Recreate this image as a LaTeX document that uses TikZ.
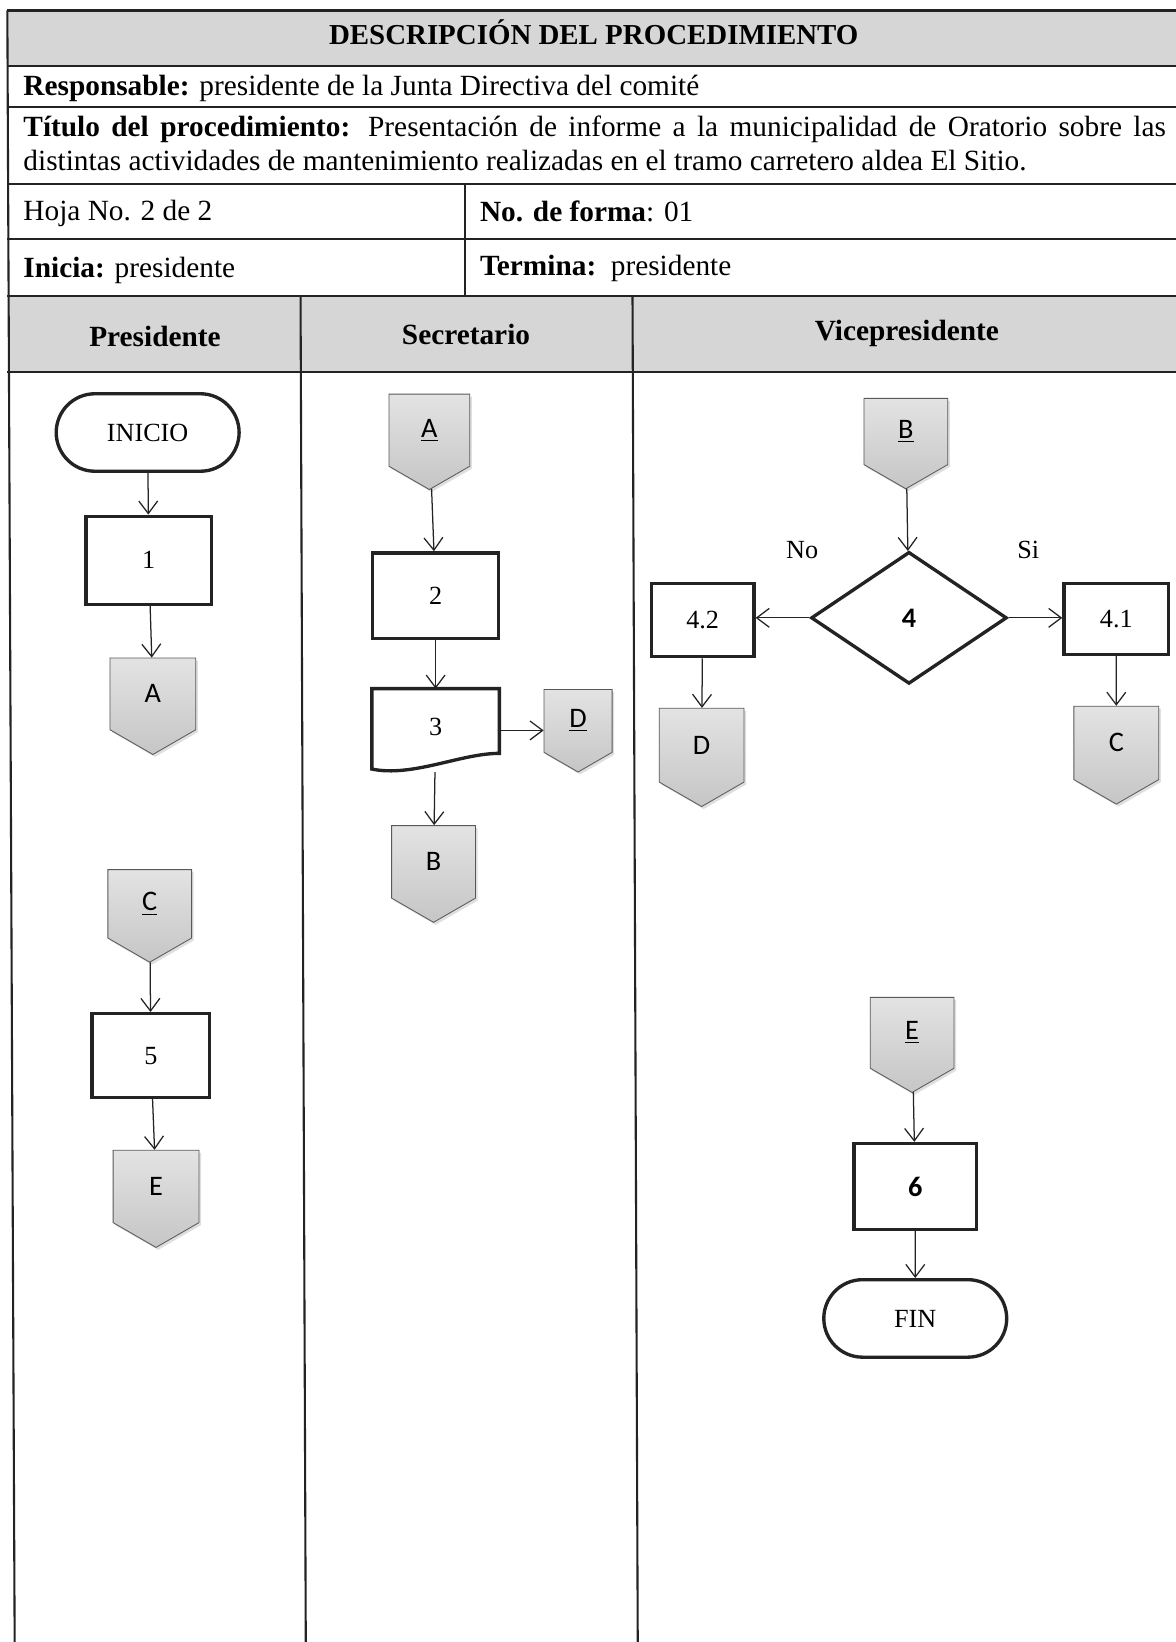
\documentclass[tikz,border=0pt]{standalone}
\usepackage{fontspec}
\setmainfont{Liberation Serif}
\newfontfamily\calibrifont{Carlito}
\usetikzlibrary{arrows.meta, shapes.geometric, shapes.symbols, shapes.misc, shadows, positioning}
\definecolor{myline}{RGB}{35,35,35}
\definecolor{myhead}{RGB}{214,214,214}
\newcommand{\flowfont}{\fontsize{12.5pt}{14pt}\selectfont}
\newcommand{\connfont}{\calibrifont\fontsize{13.5pt}{15pt}\selectfont}
\tikzset{>={Straight Barb[length=6pt,width=9pt]}, font=\fontsize{14pt}{16.5pt}\selectfont}

\begin{document}
\begin{tikzpicture}[x=0.5pt, y=-0.5pt,
rule/.style={line width=1pt, draw=myline},
cell/.style={anchor=west, inner sep=0pt},
lanetitle/.style={font=\fontsize{14pt}{16pt}\selectfont\bfseries},
startstop/.style={
  rounded rectangle,
  draw=myline,
  line width=1.6pt,
  minimum width=94pt,
  minimum height=37pt,
  font=\flowfont
  },
procbox/.style 2 args={
  rectangle,
  draw=myline,
  line width=1.6pt,
  minimum width=#1,
  minimum height=#2,
  font=\flowfont
  },
offpage/.style 2 args={
  signal,
  signal to=south,
  signal pointer angle=120,
  draw=black!65,
  line width=0.4pt,
  top color=gray!22,
  bottom color=gray!45,
  minimum width=#1,
  minimum height=#2-0.2887*#1+2.3pt,
  inner sep=0pt,
  anchor=north,
  font=\connfont,
  drop shadow={shadow xshift=1pt, shadow yshift=-1.2pt, opacity=0.25}
  },
decision/.style={
  diamond,
  aspect=1.5,
  draw=myline,
  line width=1.6pt,
  minimum width=93.5pt,
  minimum height=63pt,
  inner sep=0pt,
  font=\connfont\bfseries
  },
flow/.style={->, line width=0.6pt, myline}
]
\useasboundingbox (0,0) rectangle (1123,1568);

%the table
\fill[myhead] (7,10) rectangle (1130,63);
\fill[myhead] (8,283) rectangle (1130,355);
\draw[rule] (7,10) -- (1130,10);
\foreach \y in {63,102,176,228,283,355}
  \draw[rule] (7,\y) -- (1130,\y);
\draw[rule] (7,10) -- (14,1568);
\draw[rule] (444,176) -- (444,283);
\draw[rule] (287,283) -- (292,1568);
\draw[rule] (604,283) -- (609,1568);

%the texts of the table
\node[font=\fontsize{13.8pt}{16pt}\selectfont\bfseries] (title) at (567,31) {DESCRIPCIÓN DEL PROCEDIMIENTO};
\node[cell] (resp) at (22,84) {\textbf{Responsable:} presidente de la Junta Directiva del comité};
\node[anchor=north west, inner sep=0pt, text width=545.5pt, align=justify] (tit) at (22,110)
  {\textbf{Título del procedimiento:} Presentación de informe a la municipalidad de Oratorio sobre las\linebreak distintas actividades de mantenimiento realizadas en el tramo carretero aldea El Sitio.};
\node[cell] (hoja) at (22,204) {Hoja No. 2 de 2};
\node[cell] (forma) at (458,202) {\textbf{No. de forma}: 01};
\node[cell] (inicia) at (22,258) {\textbf{Inicia:} presidente};
\node[cell] (termina) at (458,256) {\textbf{Termina:}\ \ presidente};

%the lanes
\node[lanetitle] (lanepres) at (148,321) {Presidente};
\node[lanetitle] (lanesec) at (445,319) {Secretario};
\node[lanetitle] (lanevice) at (866,318) {Vicepresidente};

%presidente
\node[startstop] (inicio) at (141,413) {INICIO};
\node[procbox={60pt}{42pt}] (p1) at (142,535) {1};
\node[offpage={41pt}{46pt}] (conA1) at (146,628) {A};
\node[offpage={40pt}{44pt}] (conC1) at (143,830) {\underline{C}};
\node[procbox={56pt}{40pt}] (p5) at (144,1008) {5};
\node[offpage={41pt}{46pt}] (conE1) at (149,1098) {E};

%secretario
\node[offpage={38.5pt}{45.5pt}] (conA2) at (410,376) {\underline{A}};
\node[procbox={60pt}{41pt}] (p2) at (416,569) {2};
\node[minimum width=60.5pt, minimum height=39.5pt, inner sep=0pt, font=\flowfont] (doc3) at (416,697.5) {\raisebox{3.5pt}{3}};
\draw[myline, line width=1.6pt] (doc3.north west) -- (doc3.north east) -- ([yshift=9pt]doc3.south east)
  .. controls ([xshift=-18.5pt, yshift=9pt]doc3.south east) and ([xshift=19.5pt, yshift=-2.5pt]doc3.south west) ..
  ([yshift=1.5pt]doc3.south west) -- cycle;
\node[offpage={32.5pt}{39.5pt}] (conD2) at (552,658) {\underline{D}};
\node[offpage={40pt}{46pt}] (conB2) at (414,788) {B};

%vicepresidente
\node[offpage={40pt}{43pt}] (conB3) at (865,380) {\underline{B}};
\node[decision] (d4) at (868,590) {4};
\node[procbox={49pt}{35pt}] (p42) at (671,592) {4.2};
\node[procbox={50pt}{34pt}] (p41) at (1066,591) {4.1};
\node[offpage={40.5pt}{47pt}] (conD3) at (670,676) {D};
\node[offpage={40.5pt}{46.5pt}] (conC3) at (1066,674) {C};
\node[font=\flowfont] (no) at (766,525) {No};
\node[font=\flowfont] (si) at (982,525) {Si};
\node[offpage={40pt}{45pt}] (conE3) at (871,952) {\underline{E}};
\node[procbox={58.5pt}{41pt}, font=\connfont\bfseries] (p6) at (874,1133) {6};
\node[startstop] (fin) at (874,1259) {FIN};

%the arrows
\draw[flow] (inicio) -- (p1);
\draw[flow] (p1) -- (conA1);
\draw[flow] (conC1) -- (p5);
\draw[flow] (p5) -- (conE1);
\draw[flow] (conA2) -- (p2);
\draw[flow] (p2) -- (doc3);
\draw[flow] (doc3.east) -- (doc3.east -| conD2.west);
\draw[flow] (doc3) -- (conB2);
\draw[flow] (conB3) -- (d4);
\draw[flow] (d4.west) -- (d4.west -| p42.east);
\draw[flow] (d4.east) -- (d4.east -| p41.west);
\draw[flow] (p42) -- (conD3);
\draw[flow] (p41) -- (conC3);
\draw[flow] (conE3) -- (p6);
\draw[flow] (p6) -- (fin);

\end{tikzpicture}
\end{document}
